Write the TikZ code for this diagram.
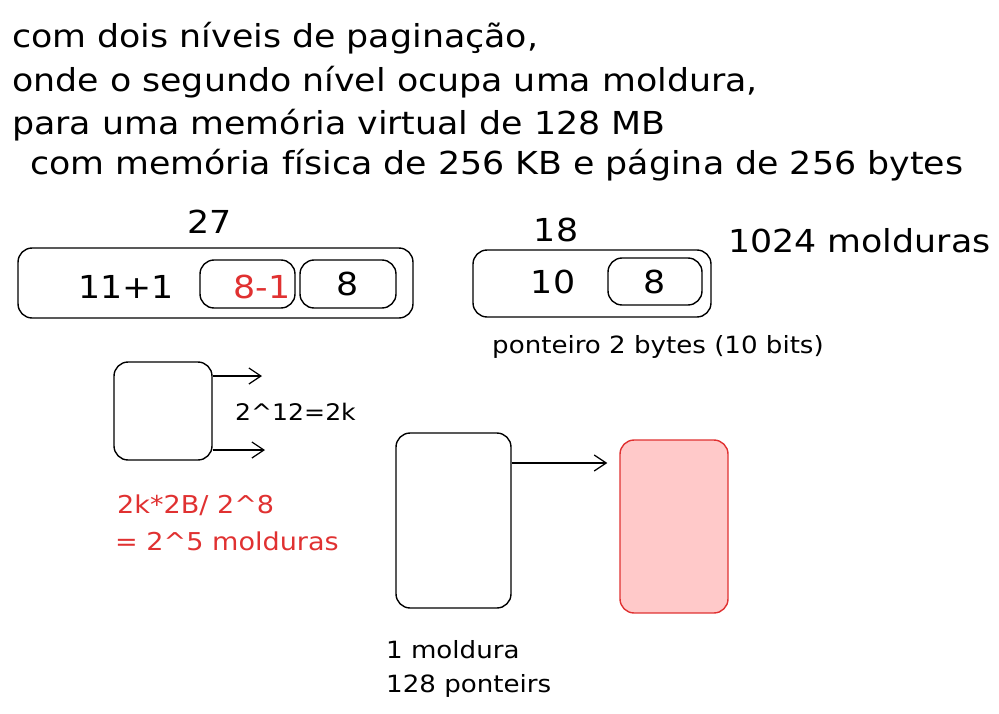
\documentclass[tikz,border=0pt]{standalone}
\usepackage{fontspec}
\setmainfont{DejaVu Sans}[FakeStretch=1.1]
\usepackage{tikz}
\usetikzlibrary{arrows.meta,positioning}
\usepackage{xcolor}
\definecolor{sketchred}{HTML}{E03131}
\definecolor{sketchpink}{HTML}{FFC9C9}

\tikzset{
  box/.style={draw,rounded corners=8pt,line width=0.8pt,inner sep=0pt},
  big/.style={font=\fontsize{18}{20}\selectfont},
  mid/.style={font=\fontsize{14}{17}\selectfont},
  small/.style={font=\fontsize{13.5}{16}\selectfont},
}

\begin{document}
\begin{tikzpicture}[x=0.02cm,y=-0.02cm,>={Straight Barb[length=2.4mm,width=3.2mm]}]
  \useasboundingbox (0,0) rectangle (999,713);
  % enunciado
  \node[big,right] (l1) at (6,38) {com dois níveis de paginação,};
  \node[big,right] (l2) at (6,82) {onde o segundo nível ocupa uma moldura,};
  \node[big,right] (l3) at (6,125) {para uma memória virtual de 128 MB};
  \node[big,right] (l4) at (24,165) {com memória física de 256 KB e página de 256 bytes};
  % endereco virtual
  \node[big] (v27) at (210,222) {27};
  \node[box,minimum width=7.9cm,minimum height=1.4cm] (va) at (215.5,283) {};
  \node[big] (v1) at (126,287) {11+1};
  \node[box,minimum width=1.9cm,minimum height=0.96cm] (v2) at (247.5,284) {};
  \node[big,text=sketchred] at (262,287) {8-1};
  \node[box,big,minimum width=1.92cm,minimum height=0.96cm] (v3) at (348,284) {8};
  % endereco fisico
  \node[big] (f18) at (556,230) {18};
  \node[box,minimum width=4.76cm,minimum height=1.34cm] (fa) at (592,283.5) {};
  \node[big] (f1) at (553,282) {10};
  \node[box,big,minimum width=1.88cm,minimum height=0.94cm] (f2) at (655,281.5) {8};
  \node[big,right] (nmold) at (722,241) {1024 molduras};
  \node[small,right] (pont) at (486,347) {ponteiro 2 bytes (10 bits)};
  % primeiro nivel
  \node[box,minimum width=1.96cm,minimum height=1.96cm] (t1) at (163,411) {};
  \coordinate (a1) at (262,376);
  \coordinate (a2) at (265,450);
  \draw[->,line width=0.7pt] (t1.east |- a1) -- (a1);
  \draw[->,line width=0.7pt] (t1.east |- a2) -- (a2);
  \node[mid,right,font=\fontsize{13}{16}\selectfont] (c1) at (229,412) {2\^{}12=2k};
  \node[mid,right,text=sketchred] (c2) at (111,505) {2k*2B/ 2\^{}8};
  \node[mid,right,text=sketchred] (c3) at (109,541) {= 2\^{}5 molduras};
  % segundo nivel
  \node[box,minimum width=2.3cm,minimum height=3.5cm] (t2) at (453.5,520.5) {};
  \node[box,draw=sketchred,fill=sketchpink,minimum width=2.16cm,minimum height=3.46cm] (mold) at (674,526.5) {};
  \coordinate (a3) at (0,463);
  \draw[->,line width=0.7pt,shorten >=0.24cm] (t2.east |- a3) -- (mold.west |- a3);
  \node[small,right] (m1) at (380,650) {1 moldura};
  \node[small,right] (m2) at (380,686) {128 ponteirs};
\end{tikzpicture}
\end{document}
